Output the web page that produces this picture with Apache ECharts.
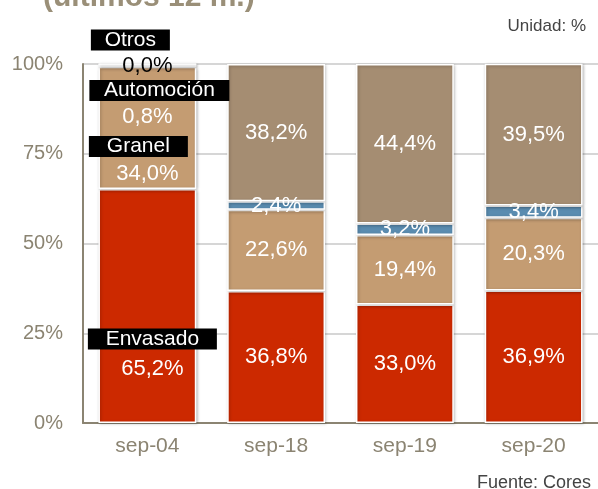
<!DOCTYPE html>
<html><head><meta charset="utf-8">
<script src="https://cdn.jsdelivr.net/npm/echarts@6/dist/echarts.min.js"></script>
<style>html,body{margin:0;padding:0;background:#fff}#c{width:598px;height:489px}</style>
</head><body><div id="c"></div>
<script>
const categories = ['sep-04', 'sep-18', 'sep-19', 'sep-20'];
const envasado = [65.2, 36.8, 33.0, 36.9];
const granel = [34.0, 22.6, 19.4, 20.3];
const automocion = [0.8, 2.4, 3.2, 3.4];
const otros = [0.0, 38.2, 44.4, 39.5];
const yTicks = [0, 25, 50, 75, 100];

const grey = '#8b8472';
const FF = 'Liberation Sans';
const fmt = v => v.toFixed(1).replace('.', ',') + '%';

function mkSeries(name, data, color, firstCfg) {
  return {
    name, type: 'bar', stack: 'total', barWidth: '76%',
    itemStyle: { color, borderColor: '#fff', borderWidth: 1.5,
      shadowColor: 'rgba(0,0,0,0.25)', shadowBlur: 3, shadowOffsetX: 1, shadowOffsetY: 1 },
    data: data.map((v, i) => {
      const d = { value: v };
      if (i === 0) {
        d.label = {
          offset: firstCfg.offset,
          formatter: '{box|' + name + '}\n{val|' + fmt(v) + '}',
          rich: {
            box: { backgroundColor: '#000', color: '#fff', fontSize: 21, width: firstCfg.w, height: 21, lineHeight: 21, align: 'center', fontFamily: FF },
            val: { color: firstCfg.valColor || '#fff', fontSize: 22, lineHeight: firstCfg.lh, padding: firstCfg.pad, fontFamily: FF }
          }
        };
      }
      return d;
    }),
    label: { show: true, position: 'inside', color: '#fff', fontSize: 22, fontFamily: FF, formatter: p => fmt(p.value) }
  };
}

const chart = echarts.init(document.getElementById('c'), null, { renderer: 'canvas' });
chart.setOption({
  animation: false,
  textStyle: { fontFamily: FF },
  title: [
    { text: '(últimos 12 m.)', left: 38, top: -22, textStyle: { color: '#9a8f78', fontSize: 30, fontWeight: 'bold', fontFamily: FF } },
    { text: 'Unidad: %', right: 7, top: 13, textStyle: { color: '#444', fontSize: 17, fontWeight: 'normal', fontFamily: FF } },
    { text: 'Fuente: Cores', right: 2, top: 469, textStyle: { color: '#444', fontSize: 18, fontWeight: 'normal', fontFamily: FF } }
  ],
  grid: { left: 83, right: -3, top: 64, bottom: 66 },
  xAxis: {
    type: 'category', data: categories,
    axisLine: { lineStyle: { color: grey, width: 2 } },
    axisTick: { show: false },
    axisLabel: { color: grey, fontSize: 21, margin: 13 }
  },
  yAxis: {
    type: 'value', min: 0, max: 100, interval: 25,
    axisLine: { show: true, lineStyle: { color: grey, width: 2 } },
    axisTick: { show: false },
    splitLine: { lineStyle: { color: '#c9c9c9', width: 1.5 } },
    axisLabel: { color: grey, fontSize: 20, margin: 20, formatter: v => yTicks.includes(v) ? v + '%' : '' }
  },
  series: [
    mkSeries('Envasado', envasado, '#cc2900', { offset: [5, 52], w: 129, lh: 38, pad: [0, 0, 0, 0] }),
    mkSeries('Granel', granel, '#c49c72', { offset: [-9, 35.5], w: 99, lh: 34, pad: [0, 0, 0, 18] }),
    mkSeries('Automoción', automocion, '#5a8cb0', { offset: [12, 41], w: 140, lh: 32, pad: [0, 24, 0, 0] }),
    mkSeries('Otros', otros, '#a58d72', { offset: [-17, -9], w: 79, lh: 30, pad: [0, 0, 0, 34], valColor: '#000' })
  ]
});
</script></body></html>
